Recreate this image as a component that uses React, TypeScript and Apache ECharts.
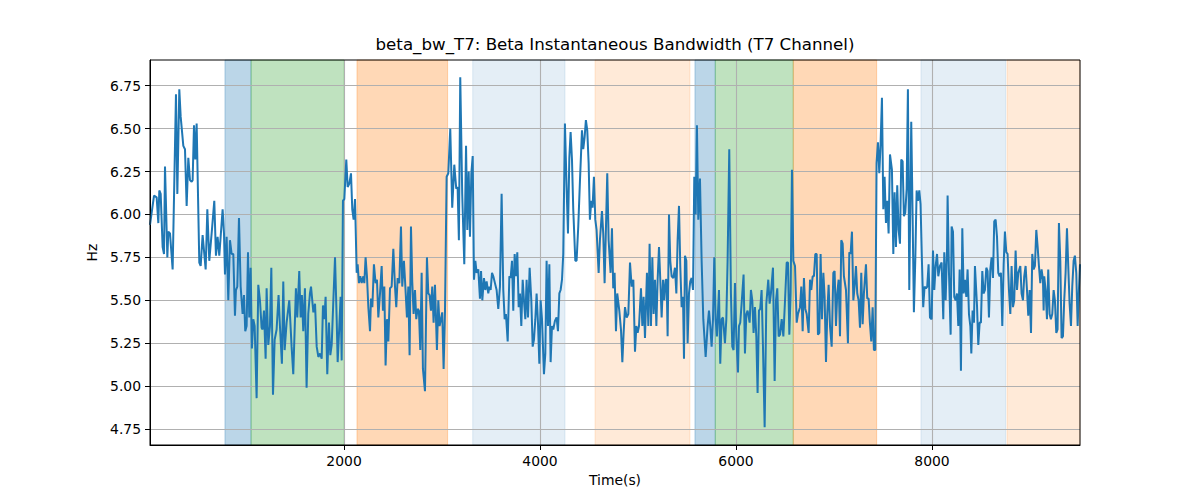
import React, { useEffect, useRef } from "react";
import * as echarts from "echarts";

const TITLE = "beta_bw_T7: Beta Instantaneous Bandwidth (T7 Channel)";
const X_NAME = "Time(s)";
const Y_NAME = "Hz";
const X_MIN = 20;
const X_MAX = 9510;
const Y_MIN = 4.657;
const Y_MAX = 6.9;
const X_TICKS = [2000, 4000, 6000, 8000];
const Y_TICKS = [4.75, 5.0, 5.25, 5.5, 5.75, 6.0, 6.25, 6.5, 6.75];

// [start, end, color] shaded epochs
const BANDS: [number, number, string][] = [
  [785, 1051, "rgba(31,119,180,0.3)"],
  [1051, 2001, "rgba(44,160,44,0.3)"],
  [2132, 3057, "rgba(255,127,14,0.3)"],
  [3313, 4255, "rgba(31,119,180,0.12)"],
  [4561, 5530, "rgba(255,127,14,0.16)"],
  [5581, 5788, "rgba(31,119,180,0.3)"],
  [5788, 6584, "rgba(44,160,44,0.3)"],
  [6584, 7435, "rgba(255,127,14,0.3)"],
  [7887, 8751, "rgba(31,119,180,0.12)"],
  [8765, 9510, "rgba(255,127,14,0.16)"],
];

// [time (s), bandwidth (Hz)]
const betaBw: [number, number][] = [
  [20,5.94],[61,6.11],[88,6.10],[105,5.95],[115,6.14],[129,6.12],[149,5.81],[163,5.77],[173,6.28],[197,5.75],
  [207,5.90],[224,5.89],[251,5.68],[285,6.70],[299,6.12],[319,6.73],[333,6.57],[360,6.40],[377,6.38],[394,6.05],
  [411,6.33],[428,6.20],[445,6.19],[455,6.20],[469,6.52],[482,6.32],[496,6.53],[523,5.72],[537,5.70],[557,5.88],
  [574,5.77],[588,5.68],[605,6.03],[625,5.73],[652,5.91],[676,6.08],[693,5.76],[710,5.87],[727,5.76],[741,5.87],
  [761,6.03],[775,5.89],[785,5.65],[802,5.87],[819,5.50],[836,5.85],[853,5.77],[870,5.77],[887,5.41],[897,5.56],
  [911,5.58],[928,5.98],[945,5.58],[965,5.42],[979,5.53],[992,5.32],[1006,5.35],[1020,5.78],[1033,5.40],[1047,5.69],
  [1060,5.22],[1074,5.39],[1088,5.35],[1108,4.93],[1125,5.59],[1142,5.50],[1159,5.34],[1169,5.33],[1183,5.44],[1200,5.16],
  [1210,5.57],[1227,5.24],[1244,5.35],[1258,5.69],[1275,4.95],[1292,5.27],[1312,5.33],[1332,5.53],[1346,5.35],[1366,5.13],
  [1380,5.61],[1394,5.21],[1414,5.37],[1441,5.50],[1465,5.23],[1482,5.07],[1509,5.57],[1523,5.40],[1543,5.67],[1557,5.40],
  [1570,5.53],[1584,5.32],[1601,5.57],[1618,4.99],[1635,5.42],[1652,5.54],
  [1663,5.58],[1687,5.43],[1704,5.48],[1721,5.23],[1738,5.17],[1755,5.19],[1772,5.16],[1785,5.47],[1799,5.39],[1812,5.52],
  [1829,5.07],[1846,5.37],[1860,5.18],[1874,5.24],[1891,5.50],[1908,5.75],[1925,5.39],[1935,5.14],[1952,5.35],[1965,5.52],
  [1976,5.15],[1989,6.08],[2003,6.09],[2023,6.32],[2037,6.16],[2054,6.18],[2071,6.24],[2084,6.03],[2098,5.97],[2112,6.09],
  [2129,5.66],[2139,5.71],[2152,5.60],[2166,5.64],[2180,5.60],[2197,5.64],[2207,5.60],[2220,5.75],[2234,5.64],[2248,5.46],
  [2265,5.32],[2275,5.51],[2289,5.46],[2305,5.71],[2322,5.60],[2336,5.62],[2350,5.40],[2367,5.54],[2384,5.70],[2397,5.44],
  [2411,5.58],[2424,5.12],[2438,5.39],[2452,5.26],[2469,5.57],[2486,5.58],[2503,5.80],[2520,5.58],[2533,5.46],[2547,5.63],
  [2564,5.60],[2581,5.93],[2594,5.58],[2611,5.73],[2622,5.62],[2642,5.40],[2656,5.58],[2669,5.18],[2683,5.93],[2696,5.61],
  [2710,5.42],[2724,5.56],[2737,5.39],[2751,5.45],[2764,5.44],[2778,5.21],[2792,5.66],[2805,5.10],[2826,4.97],[2846,5.75],
  [2860,5.54],[2873,5.53],[2887,5.44],[2900,5.58],[2914,5.37],[2928,5.59],[2948,5.21],[2962,5.50],[2975,5.35],[2989,5.39],
  [3002,5.43],[3016,5.10],[3030,5.43],[3047,6.22],[3064,6.24],[3084,6.50],[3104,6.04],[3125,6.29],[3145,6.15],[3159,6.16],
  [3172,5.85],[3186,6.80],[3206,6.12],[3227,5.71],
  [3245,6.40],[3258,5.91],[3272,6.25],[3285,5.87],[3299,6.24],[3313,6.34],[3326,5.62],[3340,5.73],[3353,5.66],[3370,5.68],
  [3387,5.51],[3398,5.67],[3411,5.50],[3428,5.63],[3442,5.56],[3455,5.61],[3472,5.54],[3483,5.58],[3496,5.56],[3510,5.66],
  [3523,5.64],[3540,5.60],[3557,5.56],[3574,5.45],[3591,5.58],[3608,6.12],[3625,5.56],[3639,5.39],[3652,5.42],[3670,5.26],
  [3687,5.64],[3700,5.63],[3714,5.73],[3727,5.44],[3741,5.77],[3755,5.64],[3768,5.78],[3782,5.46],[3795,5.54],[3809,5.35],
  [3823,5.62],[3836,5.50],[3850,5.39],[3863,5.62],[3877,5.40],[3894,5.69],[3911,5.50],[3925,5.23],[3938,5.27],[3952,5.39],
  [3965,5.54],[3979,5.37],[3993,5.13],[4006,5.50],[4020,5.39],[4040,5.07],[4054,5.19],[4067,5.73],[4081,5.35],[4095,5.71],
  [4108,5.14],[4122,5.35],[4135,5.33],[4152,5.38],[4169,5.40],[4183,5.32],[4197,5.54],[4210,5.56],[4224,5.62],[4237,5.77],
  [4254,6.53],[4271,6.16],[4285,5.89],[4299,6.33],[4312,6.48],[4326,6.32],[4339,6.03],[4360,5.73],[4373,5.73],[4390,5.93],
  [4407,6.19],[4428,6.49],[4441,6.38],[4455,6.45],[4468,6.55],[4482,6.49],[4496,6.30],[4509,5.97],[4523,6.08],[4536,6.04],
  [4550,6.22],[4564,5.97],[4577,5.91],[4598,5.66],[4611,5.85],[4632,6.02],[4645,5.89],[4659,5.60],[4673,5.93],[4686,6.24],
  [4700,5.85],[4720,5.66],[4734,5.92],[4747,5.57],[4761,5.66],[4775,5.32],[4788,5.54],[4809,5.44],
  [4826,5.33],[4840,5.14],[4853,5.31],[4867,5.46],[4884,5.40],[4901,5.42],[4918,5.72],[4935,5.58],[4952,5.62],[4969,5.20],
  [4983,5.35],[4996,5.31],[5010,5.35],[5030,5.57],[5044,5.35],[5057,5.52],[5071,5.28],[5091,5.66],[5105,5.35],[5118,5.83],
  [5132,5.35],[5146,5.75],[5159,5.42],[5173,5.62],[5187,5.35],[5200,5.62],[5214,5.81],[5227,5.62],[5241,5.40],[5255,5.62],
  [5268,5.50],[5282,5.62],[5292,5.62],[5302,5.29],[5316,6.00],[5329,5.73],[5343,5.64],[5360,5.63],[5377,5.69],[5391,5.54],
  [5404,5.85],[5418,6.05],[5431,5.70],[5445,5.46],[5459,5.52],[5469,5.16],[5479,5.76],[5493,5.73],[5506,5.25],[5520,5.54],
  [5533,5.61],[5547,5.63],[5561,5.56],[5574,6.22],[5588,6.00],[5601,6.52],[5615,5.97],[5632,6.21],[5649,5.73],[5666,5.39],
  [5690,5.17],[5710,5.35],[5724,5.44],[5737,5.35],[5751,5.23],[5765,5.39],[5778,5.75],[5792,5.39],[5805,5.29],[5826,5.56],
  [5839,5.13],[5853,5.39],[5867,5.40],[5887,5.25],[5901,5.39],[5914,5.73],[5931,6.38],[5948,5.54],[5962,5.23],[5975,5.21],
  [5989,5.60],[6003,5.29],[6020,5.08],[6030,5.35],[6043,5.37],[6057,5.48],[6077,5.65],[6091,5.19],[6105,5.42],[6118,5.44],
  [6139,5.37],[6152,5.56],[6166,5.50],[6179,5.31],[6193,5.46],[6207,5.29],[6220,4.96],[6234,5.44],[6247,5.45],[6261,5.56],
  [6275,5.23],[6292,4.76],[6309,5.48],[6329,5.62],[6343,5.48],[6356,5.54],[6377,5.69],[6394,5.03],
  [6408,5.50],[6421,5.57],[6435,5.29],[6449,5.30],[6466,5.39],[6483,5.29],[6500,5.50],[6517,5.72],[6530,5.72],[6544,5.30],
  [6557,5.54],[6571,6.26],[6585,5.73],[6602,5.70],[6619,5.37],[6632,5.42],[6653,5.46],[6666,5.58],[6680,5.32],[6693,5.63],
  [6707,5.45],[6721,5.42],[6741,5.31],[6755,5.62],[6768,5.56],[6782,5.64],[6795,5.64],[6809,5.77],[6823,5.77],[6836,5.30],
  [6850,5.31],[6863,5.77],[6877,5.39],[6891,5.66],[6904,5.52],[6918,5.14],[6931,5.42],[6945,5.59],[6959,5.35],[6976,5.23],
  [6993,5.66],[7006,5.67],[7020,5.35],[7033,5.54],[7047,5.62],[7061,5.29],[7074,5.85],[7088,5.83],[7101,5.64],[7122,5.56],
  [7142,5.25],[7156,5.78],[7169,5.77],[7183,5.90],[7197,5.50],[7210,5.58],[7224,5.70],[7237,5.54],[7251,5.50],[7265,5.34],
  [7278,5.66],[7292,5.36],[7305,5.54],[7326,5.71],[7339,5.51],[7353,5.51],[7366,5.37],[7380,5.26],[7394,5.46],[7407,5.21],
  [7421,5.21],[7434,6.30],[7448,6.42],[7462,6.24],[7475,6.41],[7489,6.68],[7503,6.03],[7516,6.22],[7530,5.95],[7543,6.08],
  [7557,5.89],[7571,6.35],[7591,6.26],[7605,5.77],[7618,6.13],[7632,5.81],[7645,6.17],[7659,5.91],[7673,5.83],[7686,6.32],
  [7700,6.31],[7713,5.99],[7727,6.01],[7741,6.15],[7754,6.73],[7768,5.56],[7788,6.54],[7802,5.99],[7815,5.43],[7829,5.73],
  [7843,6.14],[7856,6.08],[7870,6.14],[7883,6.06],[7897,5.73],[7910,5.46],[7924,5.58],[7938,5.57],[7951,5.58],[7965,5.71],
  [7979,5.40],
  [7996,5.39],[8010,5.79],[8023,5.56],[8037,5.70],[8051,5.77],[8064,5.64],[8081,5.70],[8098,5.72],[8115,5.39],[8125,5.78],
  [8139,5.50],[8153,5.79],[8159,6.11],[8173,5.66],[8190,5.30],[8200,5.93],[8214,5.90],[8227,5.52],[8241,5.50],[8255,5.54],
  [8268,5.35],[8282,5.68],[8295,5.09],[8309,5.92],[8323,5.54],[8336,5.62],[8350,5.52],[8363,5.68],[8377,5.42],[8391,5.35],
  [8401,5.19],[8414,5.44],[8428,5.37],[8438,5.70],[8459,5.47],[8472,5.24],[8486,5.37],[8499,5.37],[8513,5.67],[8527,5.54],
  [8540,5.56],[8554,5.69],[8567,5.67],[8581,5.40],[8595,5.68],[8608,5.75],[8622,5.63],[8635,5.96],[8649,5.97],[8663,5.87],
  [8676,5.66],[8690,5.64],[8703,5.66],[8717,5.35],[8731,5.71],[8744,5.90],[8758,5.78],[8771,5.77],[8785,5.56],[8799,5.42],
  [8812,5.70],[8826,5.46],[8839,5.50],[8853,5.79],[8867,5.56],[8880,5.66],[8901,5.70],[8914,5.54],[8928,5.50],[8941,5.64],
  [8955,5.70],[8969,5.56],[8982,5.41],[8996,5.56],[9010,5.31],[9023,5.77],[9037,5.68],[9050,5.70],[9064,5.91],[9078,5.81],
  [9091,5.70],[9105,5.60],[9118,5.68],[9132,5.62],[9139,5.44],[9145,5.64],[9159,5.56],[9173,5.39],[9186,5.68],[9200,5.42],
  [9213,5.39],[9227,5.42],[9241,5.56],[9254,5.50],[9268,5.31],[9281,5.33],[9295,5.95],[9309,5.73],[9322,5.28],[9336,5.29],
  [9349,5.50],[9363,5.66],[9377,5.92],[9390,5.70],[9404,5.48],[9418,5.35],[9431,5.58],[9445,5.73],[9458,5.76],[9472,5.66],
  [9486,5.35],[9499,5.56],[9510,5.71],
];

const FONT = "DejaVu Sans";

export default function App() {
  const ref = useRef<HTMLDivElement>(null);
  useEffect(() => {
    if (!ref.current) return;
    const chart = echarts.init(ref.current, undefined, { renderer: "svg" });
    const gridColor = "#b0b0b0";
    chart.setOption({
      animation: false,
      backgroundColor: "#ffffff",
      title: {
        text: TITLE,
        left: 615,
        textAlign: "center",
        top: 36,
        padding: 0,
        textStyle: { fontFamily: FONT, fontSize: 16.67, fontWeight: "normal", color: "#000" },
      },
      grid: {
        left: 150,
        right: 120,
        top: 60,
        bottom: 55,
        show: true,
        z: 4,
        borderColor: "#000",
        borderWidth: 1,
        backgroundColor: "transparent",
      },
      xAxis: {
        type: "value",
        min: X_MIN,
        max: X_MAX,
        z: 2,
        name: X_NAME,
        nameLocation: "middle",
        nameGap: 28,
        nameTextStyle: { fontFamily: FONT, fontSize: 13.9, color: "#000" },
        axisLine: { show: true, onZero: false, lineStyle: { color: "#000", width: 1 } },
        axisTick: { show: true, length: 5, customValues: X_TICKS, lineStyle: { color: "#000", width: 1 } },
        axisLabel: {
          customValues: X_TICKS,
          margin: 9,
          fontFamily: FONT,
          fontSize: 13.9,
          color: "#000",
          formatter: (v: number) => String(v),
        },
        splitLine: { show: true, lineStyle: { color: gridColor, width: 1.1 } },
      },
      yAxis: {
        type: "value",
        min: Y_MIN,
        max: Y_MAX,
        z: 2,
        name: Y_NAME,
        nameLocation: "middle",
        nameGap: 47,
        nameRotate: 90,
        nameTextStyle: { fontFamily: FONT, fontSize: 13.9, color: "#000" },
        axisLine: { show: true, onZero: false, lineStyle: { color: "#000", width: 1 } },
        axisTick: { show: true, length: 5, customValues: Y_TICKS, lineStyle: { color: "#000", width: 1 } },
        axisLabel: {
          customValues: Y_TICKS,
          margin: 9,
          fontFamily: FONT,
          fontSize: 13.9,
          color: "#000",
          formatter: (v: number) => v.toFixed(2),
        },
        splitLine: { show: true, lineStyle: { color: gridColor, width: 1.1 } },
      },
      series: [
        {
          name: "bands",
          type: "line",
          z: 1,
          data: [],
          silent: true,
          markArea: {
            silent: true,
            data: BANDS.map(([a, b, c]) => [
              { xAxis: a, itemStyle: { color: c, borderColor: c, borderWidth: 1 } },
              { xAxis: b },
            ]),
          },
        },
        {
          name: "beta_bw",
          type: "line",
          z: 3,
          data: betaBw,
          showSymbol: false,
          symbol: "none",
          lineStyle: { color: "#1f77b4", width: 2 },
          itemStyle: { color: "#1f77b4" },
        },
      ],
    });
    return () => chart.dispose();
  }, []);
  return (
    <div
      ref={ref}
      style={{ position: "fixed", left: 0, top: 0, width: 1200, height: 500, background: "#fff" }}
    />
  );
}
